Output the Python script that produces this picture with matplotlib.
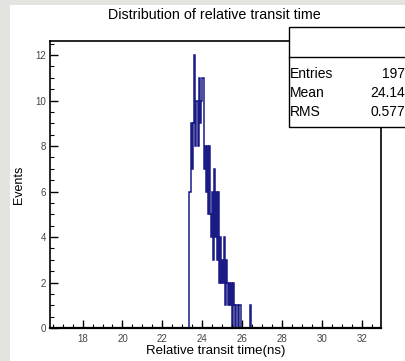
import numpy as np
import matplotlib
matplotlib.use("Agg")
import matplotlib.pyplot as plt
from matplotlib.patches import Rectangle
from matplotlib.ticker import MultipleLocator

plt.rcParams['font.family'] = ['Liberation Sans', 'DejaVu Sans']

# histogram: 0.05 ns bins starting at 23.35 ns
bin_start = 23.35
bin_width = 0.05
counts = [6, 6, 9, 7, 9, 12, 8, 10, 10, 8,
          11, 9, 10, 11, 11, 7, 8, 6, 8, 5,
          8, 5, 4, 6, 3, 7, 4, 6, 3, 6,
          2, 4, 2, 3, 2, 4, 1, 3, 2, 1,
          2, 1, 2, 0, 2, 1, 0, 1, 1, 0,
          1, 1, 0, 0, 0, 0, 0, 0, 0, 0,
          0, 1]
x_ticks = [18, 20, 22, 24, 26, 28, 30, 32]
y_ticks = [0, 2, 4, 6, 8, 10, 12]
stats_labels = ['Entries', 'Mean', 'RMS']
stats_values = ['197', '24.14', '0.577']

W, H = 405, 361
fig = plt.figure(figsize=(W / 100, H / 100), dpi=100)
fig.patch.set_facecolor('#e3e3df')


def fx(px):
    return px / W


def fy(py):
    return 1 - py / H


# white canvas
fig.patches.append(Rectangle((fx(10), 0), 1 - fx(10), fy(5), transform=fig.transFigure,
                             facecolor='white', edgecolor='none', zorder=-10))

ax = fig.add_axes([fx(50), fy(328), fx(381) - fx(50), fy(41) - fy(328)])
edges = bin_start + bin_width * np.arange(len(counts) + 1)
ax.stairs(counts, edges, color='#1b1b86', lw=1.1)

ax.set_xlim(16.37, 32.95)
ax.set_ylim(0, 12.62)
ax.set_xticks(x_ticks)
ax.set_yticks(y_ticks)
ax.xaxis.set_minor_locator(MultipleLocator(0.5))
ax.yaxis.set_minor_locator(MultipleLocator(0.5))
ax.tick_params(which='major', direction='in', length=6, width=1, labelsize=7,
               labelcolor='#444444', color='black')
ax.tick_params(which='minor', direction='in', length=3, width=0.8, color='black')
ax.tick_params(axis='x', pad=4)
ax.tick_params(axis='y', pad=3)
for s in ax.spines.values():
    s.set_linewidth(1.2)
ax.spines['bottom'].set_linewidth(1.6)

ax.set_xlabel('Relative transit time(ns)', fontsize=9.5, labelpad=1)
ax.set_ylabel('Events', fontsize=9, labelpad=7)
fig.text(fx(214), fy(15), 'Distribution of relative transit time', fontsize=10.3,
         ha='center', va='center')

# stats box (cut at the right edge)
box_l, box_t, box_div, box_b = 289, 27, 57, 127
fig.patches.append(Rectangle((fx(box_l), fy(box_b)), 1.0, fy(box_t) - fy(box_b),
                             transform=fig.transFigure, facecolor='white',
                             edgecolor='black', lw=1.0, zorder=5))
fig.add_artist(plt.Line2D([fx(box_l), 1.0], [fy(box_div), fy(box_div)],
                          transform=fig.transFigure, color='black', lw=1.0, zorder=6))
for i, (lab, val) in enumerate(zip(stats_labels, stats_values)):
    yy = fy(74 + 19 * i)
    fig.text(fx(290), yy, lab, fontsize=10, ha='left', va='center', zorder=7)
    fig.text(fx(405), yy, val, fontsize=10, ha='right', va='center', zorder=7)

fig.savefig('out.png', dpi=100, facecolor=fig.get_facecolor())
